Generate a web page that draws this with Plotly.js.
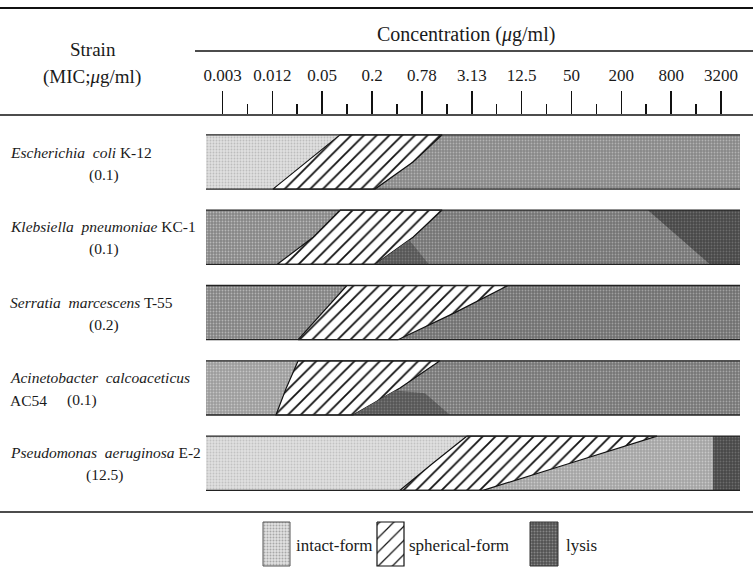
<!DOCTYPE html>
<html><head><meta charset="utf-8">
<script src="https://cdn.plot.ly/plotly-3.0.1.min.js"></script>
<style>html,body{margin:0;padding:0;background:#fff}</style>
</head><body><div id="chart" style="width:753px;height:571px"></div>
<script>
// ---------------- data ----------------
const strainNames = [
  '<i>Escherichia\u00a0 coli</i> K-12',
  '<i>Klebsiella\u00a0 pneumoniae</i> KC-1',
  '<i>Serratia\u00a0 marcescens</i> T-55',
  '<i>Acinetobacter\u00a0 calcoaceticus</i>',
  '<i>Pseudomonas\u00a0 aeruginosa</i> E-2'
];
const strainCodeLine2 = ['', '', '', 'AC54', ''];
const micLabels = ['(0.1)', '(0.1)', '(0.2)', '(0.1)', '(12.5)'];
const tickLabels = ['0.003','0.012','0.05','0.2','0.78','3.13','12.5','50','200','800','3200'];
const tickValues = [0.003052, 0.01221, 0.04883, 0.1953, 0.78125, 3.125, 12.5, 50, 200, 800, 3200];
const minorTickValues = [0.006104, 0.02441, 0.09766, 0.3906, 1.5625, 6.25, 25, 100, 400, 1600];
// intact-form -> spherical-form boundary (ug/ml) at top, middle and bottom edge of each band
const intactEndTop = [0.080, 0.080, 0.097, 0.025, 2.74];
const intactEndMid = [0.032, 0.038, 0.049, 0.018, 1.06];
const intactEndBot = [0.0124, 0.0139, 0.025, 0.0135, 0.425];
// spherical-form -> lysis boundary (ug/ml)
const sphericalEndTop = [1.37, 1.37, 8.56, 1.29, 540];
const sphericalEndMid = [0.61, 0.61, 1.96, 0.425, 48];
const sphericalEndBot = [0.212, 0.212, 0.402, 0.115, 4.27];
// denser lysis patches: strain index, concentrations, depth fraction (0 top, 1 bottom); null = end of band
const densePatchStrain = [1, 1, 3, 4];
const densePatchConc = [[0.212, 0.55, 0.95], [420, null, null, 2356], [0.115, 0.37, 0.85, 1.71], [2560, null, null, 2560]];
const densePatchDepth = [[1, 0.55, 1], [0, 0, 1, 1], [1, 0.55, 0.6, 1], [0, 0, 1, 1]];
const legendLabels = ['intact-form', 'spherical-form', 'lysis'];

// ---------------- styles / layout geometry ----------------
const W = 753, H = 571, L = 206, R = 13, T = 115, B = 0;
const PW = W - L - R, PH = H - T - B;
const px = x => (x - L) / PW;
const py = y => (H - y) / PH;
const xRange = [-2.7147, 3.7345];
const bandStart = Math.pow(10, xRange[0]), bandEnd = Math.pow(10, xRange[1]);
const yRange = [4.648, -0.624];
const half = 0.36;
const intactColor = [['#e0e0e0','#bdbdbd'], ['#868686','#b8b8b8'], ['#828282','#b4b4b4'], ['#9c9c9c','#c4c4c4'], ['#e0e0e0','#c2c2c2']];
const lysisColor  = [['#888888','#b2b2b2'], ['#747474','#a2a2a2'], ['#707070','#a0a0a0'], ['#767676','#a6a6a6'], ['#a4a4a4','#c8c8c8']];
const denseColor = [['#484848', '#6c6c6c'], ['#565656', '#787878']];
const FONT = 'Liberation Serif, Times New Roman, serif';

const traces = [];
function poly(xs, ys, fillBg, fillFg, shape, size, sol, lineColor, lineW, xa, ya) {
  traces.push({
    type: 'scatter', mode: 'lines', x: xs.concat([xs[0]]), y: ys.concat([ys[0]]),
    fill: 'toself', fillcolor: fillBg,
    fillpattern: {shape: shape, bgcolor: fillBg, fgcolor: fillFg, size: size, solidity: sol},
    line: {color: lineColor || 'rgba(0,0,0,0)', width: lineW || 0},
    xaxis: xa || 'x', yaxis: ya || 'y', hoverinfo: 'skip', showlegend: false
  });
}

strainNames.forEach((s, i) => {
  const yt = i - half, ym = i, yb = i + half;
  poly([bandStart, intactEndTop[i], intactEndMid[i], intactEndBot[i], bandStart],
       [yt, yt, ym, yb, yb], intactColor[i][0], intactColor[i][1], '.', 3, 0.3);
  poly([sphericalEndTop[i], bandEnd, bandEnd, sphericalEndBot[i], sphericalEndMid[i]],
       [yt, yt, yb, yb, ym], lysisColor[i][0], lysisColor[i][1], '.', 3, 0.3);
  poly([intactEndTop[i], sphericalEndTop[i], sphericalEndMid[i], sphericalEndBot[i], intactEndBot[i], intactEndMid[i]],
       [yt, yt, ym, yb, yb, ym], '#ffffff', '#111111', '/', 9, 0.2, '#111', 1.2);
});
densePatchStrain.forEach((si, k) => {
  const xs = densePatchConc[k].map(v => v === null ? bandEnd : v);
  const ys = densePatchDepth[k].map(d => si - half + 2 * half * d);
  const c = (k === 0 || k === 2) ? denseColor[1] : denseColor[0];
  poly(xs, ys, c[0], c[1], '.', 3, 0.3);
});
strainNames.forEach((s, i) => {
  [i - half, i + half].forEach(yy => traces.push({
    type: 'scatter', mode: 'lines', x: [bandStart, bandEnd], y: [yy, yy],
    line: {color: '#222', width: 1.3}, hoverinfo: 'skip', showlegend: false
  }));
});

// legend boxes (x2/y2 in page-pixel units)
const legBoxes = [[263, 290], [377, 404], [530, 558]];
const legY = [522, 566];
poly([legBoxes[0][0], legBoxes[0][1], legBoxes[0][1], legBoxes[0][0]], [legY[0], legY[0], legY[1], legY[1]],
     '#e2e2e2', '#a8a8a8', '.', 3, 0.35, '#555', 1, 'x2', 'y2');
poly([legBoxes[1][0], legBoxes[1][1], legBoxes[1][1], legBoxes[1][0]], [legY[0], legY[0], legY[1], legY[1]],
     '#ffffff', '#111111', '/', 10, 0.12, '#111', 1.2, 'x2', 'y2');
poly([legBoxes[2][0], legBoxes[2][1], legBoxes[2][1], legBoxes[2][0]], [legY[0], legY[0], legY[1], legY[1]],
     '#525252', '#858585', '.', 3, 0.35, '#333', 1, 'x2', 'y2');

const ann = [];
function txt(text, x, y, size, anchor) {
  ann.push({text: text, xref: 'paper', yref: 'paper', x: px(x), y: py(y), xanchor: anchor || 'left', yanchor: 'middle',
            showarrow: false, font: {family: FONT, size: size, color: '#1a1a1a'}});
}
txt('Concentration (<i>\u03bc</i>g/ml)', 466, 34, 20, 'center');
txt('Strain', 93, 49, 19, 'center');
txt('(MIC;<i>\u03bc</i>g/ml)', 92, 77, 19, 'center');
const rowY1 = [152, 226, 302, 377, 452];
strainNames.forEach((s, i) => {
  txt(s, 8, rowY1[i], 15.5, 'left');
  if (strainCodeLine2[i]) {
    txt(strainCodeLine2[i], 8, rowY1[i] + 23, 15.5, 'left');
    txt(micLabels[i], 82, rowY1[i] + 23, 15.5, 'center');
  } else {
    txt(micLabels[i], 104, rowY1[i] + 23, 15.5, 'center');
  }
});
txt(legendLabels[0], 294, 545, 17, 'left');
txt(legendLabels[1], 407, 545, 17, 'left');
txt(legendLabels[2], 564, 545, 17, 'left');

const shp = [];
function hline(x0, x1, y, w) {
  shp.push({type: 'line', xref: 'paper', yref: 'paper', x0: px(x0), x1: px(x1), y0: py(y), y1: py(y),
            line: {color: '#111', width: w}});
}
hline(0, 753, 8, 2);
hline(195, 753, 51, 1.6);
hline(0, 753, 115, 1.6);
hline(0, 753, 512, 1.6);

const layout = {
  width: W, height: H, margin: {l: L, r: R, t: T, b: B, pad: 0},
  paper_bgcolor: '#fff', plot_bgcolor: 'rgba(0,0,0,0)', showlegend: false,
  xaxis: {type: 'log', range: xRange, side: 'top', showgrid: false, zeroline: false, showline: false,
          tickmode: 'array', tickvals: tickValues, ticktext: tickLabels, ticks: 'outside', ticklen: 23, tickwidth: 1.6,
          tickcolor: '#111', ticklabelstandoff: 3, tickfont: {family: FONT, size: 17, color: '#1a1a1a'},
          minor: {tickmode: 'array', tickvals: minorTickValues, ticks: 'outside', ticklen: 10, tickwidth: 1.6, tickcolor: '#111', showgrid: false},
          fixedrange: true},
  yaxis: {range: yRange, domain: [py(512), 1], visible: false, fixedrange: true},
  xaxis2: {range: [L, W - R], domain: [0, 1], anchor: 'y2', visible: false, fixedrange: true},
  yaxis2: {range: [H, 512], domain: [0, py(512)], anchor: 'x2', visible: false, fixedrange: true},
  annotations: ann, shapes: shp
};
Plotly.newPlot('chart', traces, layout, {displayModeBar: false, staticPlot: true});
</script></body></html>
